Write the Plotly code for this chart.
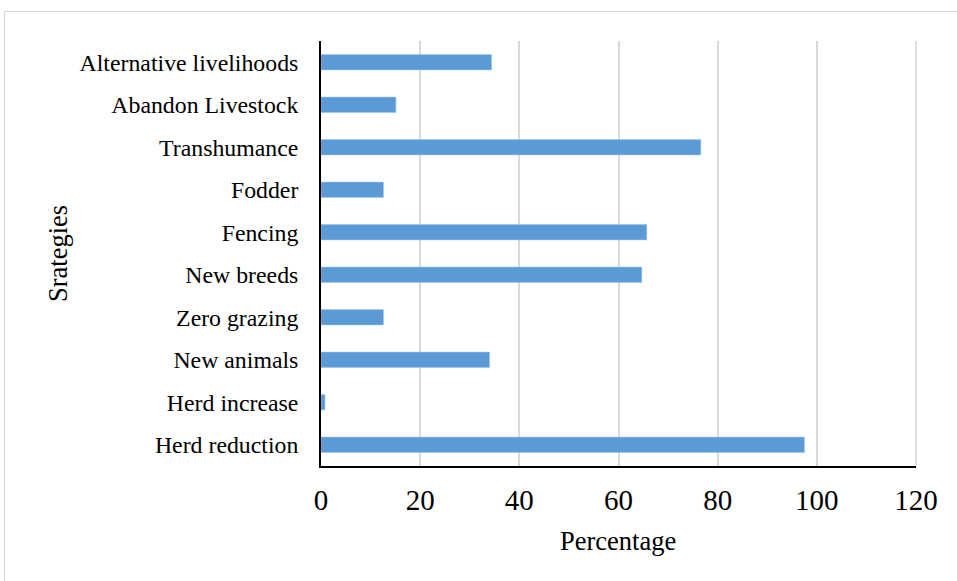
import plotly.graph_objects as go

# Adaptation strategies, listed bottom to top
strategies = [
    "Herd reduction",
    "Herd increase",
    "New animals",
    "Zero grazing",
    "New breeds",
    "Fencing",
    "Fodder",
    "Transhumance",
    "Abandon Livestock",
    "Alternative livelihoods",
]
percentages = [97.5, 0.8, 34.0, 12.6, 64.7, 65.7, 12.6, 76.6, 15.1, 34.4]

x_ticks = [0, 20, 40, 60, 80, 100, 120]

W, H = 957, 581
ML, MR, MT, MB = 321, 41, 41, 115
PW, PH = W - ML - MR, H - MT - MB


def px_x(x):
    return (x - ML) / PW


def px_y(y):
    return 1 - (y - MT) / PH


FONT = "Liberation Serif, Times New Roman, serif"
GRID = "#d9d9d9"

fig = go.Figure(
    go.Bar(
        x=percentages,
        y=strategies,
        orientation="h",
        marker=dict(color="#5b9bd5", line=dict(color="#9fc3e7", width=0.6)),
        width=0.36,
    )
)

fig.update_layout(
    width=W,
    height=H,
    margin=dict(l=ML, r=MR, t=MT, b=MB),
    paper_bgcolor="white",
    plot_bgcolor="white",
    showlegend=False,
    font=dict(family=FONT, color="#000000"),
    xaxis=dict(
        range=[x_ticks[0], x_ticks[-1]],
        tickvals=x_ticks,
        ticktext=[str(v) for v in x_ticks],
        showgrid=True,
        gridcolor=GRID,
        gridwidth=1.6,
        zeroline=False,
        showline=True,
        linecolor="#000000",
        linewidth=1.8,
        ticks="outside",
        ticklen=7,
        tickcolor="rgba(0,0,0,0)",
        tickfont=dict(family=FONT, size=29, color="#000000"),
        fixedrange=True,
    ),
    yaxis=dict(
        categoryorder="array",
        categoryarray=strategies,
        showgrid=False,
        zeroline=False,
        showline=True,
        linecolor="#000000",
        linewidth=1.8,
        ticks="outside",
        ticklen=16,
        tickcolor="rgba(0,0,0,0)",
        tickfont=dict(family=FONT, size=23.8, color="#000000"),
        fixedrange=True,
    ),
    annotations=[
        dict(
            text="Percentage",
            x=px_x(618),
            y=px_y(541),
            xref="paper",
            yref="paper",
            showarrow=False,
            font=dict(family=FONT, size=26.5, color="#000000"),
            xanchor="center",
            yanchor="middle",
        ),
        dict(
            text="Srategies",
            x=px_x(58),
            y=px_y(254),
            xref="paper",
            yref="paper",
            showarrow=False,
            textangle=-90,
            font=dict(family=FONT, size=26.5, color="#000000"),
            xanchor="center",
            yanchor="middle",
        ),
    ],
    shapes=[
        # outer chart frame
        dict(
            type="rect",
            xref="paper",
            yref="paper",
            x0=px_x(4.5),
            x1=px_x(990),
            y0=px_y(620),
            y1=px_y(11.5),
            line=dict(color=GRID, width=1.2),
            fillcolor="rgba(0,0,0,0)",
            layer="below",
        ),
        # gridline at the right end of the value axis (x = 120)
        dict(
            type="line",
            xref="paper",
            yref="paper",
            x0=1,
            x1=1,
            y0=0,
            y1=1,
            line=dict(color=GRID, width=1.6),
            layer="above",
        ),
    ],
)

fig.write_html("out.html", config={"displayModeBar": False})
